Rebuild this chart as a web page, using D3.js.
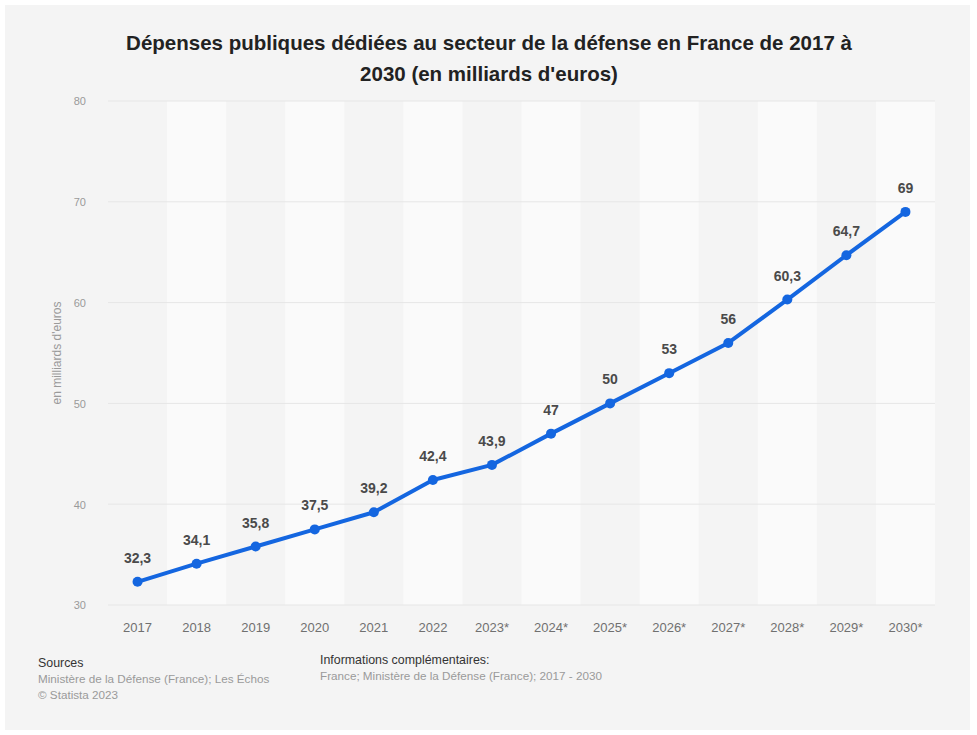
<!DOCTYPE html>
<html lang="fr">
<head>
<meta charset="utf-8">
<script src="https://cdn.jsdelivr.net/npm/d3@7/dist/d3.min.js"></script>
<style>
  html, body { margin: 0; padding: 0; background: #ffffff; }
  svg { display: block; font-family: "Liberation Sans", Arial, sans-serif; }
</style>
</head>
<body>
<svg id="chart" width="977" height="735"></svg>
<script>
// Années (les astérisques marquent les prévisions)
const years = ["2017", "2018", "2019", "2020", "2021", "2022", "2023*", "2024*", "2025*", "2026*", "2027*", "2028*", "2029*", "2030*"];
// Dépenses en milliards d'euros
const spending = [32.3, 34.1, 35.8, 37.5, 39.2, 42.4, 43.9, 47, 50, 53, 56, 60.3, 64.7, 69];
const valueLabels = ["32,3", "34,1", "35,8", "37,5", "39,2", "42,4", "43,9", "47", "50", "53", "56", "60,3", "64,7", "69"];
const yTicks = [30, 40, 50, 60, 70, 80];

const titleLines = ["Dépenses publiques dédiées au secteur de la défense en France de 2017 à", "2030 (en milliards d'euros)"];

const svg = d3.select("#chart");

// Panneau de fond gris
svg.append("rect")
  .attr("x", 5).attr("y", 5)
  .attr("width", 965).attr("height", 725)
  .attr("fill", "#f4f4f4");

const plot = { left: 108, right: 935, top: 101, bottom: 605 };

const x = d3.scaleBand()
  .domain(years)
  .range([plot.left, plot.right])
  .paddingInner(0).paddingOuter(0);

const y = d3.scaleLinear()
  .domain([30, 80])
  .range([plot.bottom, plot.top]);

// Bandes alternées
svg.append("g")
  .selectAll("rect")
  .data(years.filter((d, i) => i % 2 === 1))
  .join("rect")
  .attr("x", d => x(d))
  .attr("y", plot.top)
  .attr("width", x.bandwidth())
  .attr("height", plot.bottom - plot.top)
  .attr("fill", "#fafafa");

// Lignes de grille horizontales
svg.append("g")
  .selectAll("line")
  .data(yTicks)
  .join("line")
  .attr("x1", plot.left).attr("x2", plot.right)
  .attr("y1", d => y(d)).attr("y2", d => y(d))
  .attr("stroke", "#e6e6e6")
  .attr("stroke-width", 1);

// Axe Y
const yAxis = svg.append("g")
  .attr("transform", `translate(${plot.left - 22},0)`)
  .call(d3.axisLeft(y).tickValues(yTicks).tickSize(0).tickPadding(0));
yAxis.select(".domain").remove();
yAxis.selectAll("text")
  .attr("fill", "#9a9a9a")
  .attr("font-size", 11)
  .attr("text-anchor", "end")
  .attr("dy", "0.35em");

// Axe X
const xAxis = svg.append("g")
  .attr("transform", `translate(0,${plot.bottom})`)
  .call(d3.axisBottom(x).tickSize(0).tickPadding(0));
xAxis.select(".domain").remove();
xAxis.selectAll("text")
  .attr("fill", "#707070")
  .attr("font-size", 13)
  .attr("y", 27)
  .attr("dy", 0);

// Titre de l'axe Y
svg.append("text")
  .attr("transform", `translate(61,${(plot.top + plot.bottom) / 2}) rotate(-90)`)
  .attr("text-anchor", "middle")
  .attr("fill", "#9a9a9a")
  .attr("font-size", 12)
  .text("en milliards d'euros");

// Courbe
const cx = d => x(d) + x.bandwidth() / 2;
const line = d3.line()
  .x((d, i) => cx(years[i]))
  .y(d => y(d));

svg.append("path")
  .datum(spending)
  .attr("d", line)
  .attr("fill", "none")
  .attr("stroke", "#1466e0")
  .attr("stroke-width", 4)
  .attr("stroke-linejoin", "round")
  .attr("stroke-linecap", "round");

svg.append("g")
  .selectAll("circle")
  .data(spending)
  .join("circle")
  .attr("cx", (d, i) => cx(years[i]))
  .attr("cy", d => y(d))
  .attr("r", 5)
  .attr("fill", "#1466e0");

// Étiquettes de valeurs
svg.append("g")
  .selectAll("text")
  .data(spending)
  .join("text")
  .attr("x", (d, i) => cx(years[i]))
  .attr("y", d => y(d) - 19)
  .attr("text-anchor", "middle")
  .attr("fill", "#4a4a4a")
  .attr("font-size", 14)
  .attr("font-weight", "bold")
  .text((d, i) => valueLabels[i]);

// Titre
svg.append("g")
  .selectAll("text")
  .data(titleLines)
  .join("text")
  .attr("x", 489)
  .attr("y", (d, i) => 50 + i * 31)
  .attr("text-anchor", "middle")
  .attr("fill", "#222222")
  .attr("font-size", 20.5)
  .attr("font-weight", "bold")
  .text(d => d);

// Sources
const notes = svg.append("g").attr("font-size", 11.7);
notes.append("text").attr("x", 38).attr("y", 667)
  .attr("fill", "#333333").attr("font-size", 12.4).text("Sources");
notes.append("text").attr("x", 38).attr("y", 683)
  .attr("fill", "#9a9a9a").text("Ministère de la Défense (France); Les Échos");
notes.append("text").attr("x", 38).attr("y", 699)
  .attr("fill", "#9a9a9a").text("© Statista 2023");
notes.append("text").attr("x", 320).attr("y", 664)
  .attr("fill", "#333333").attr("font-size", 12.4).text("Informations complémentaires:");
notes.append("text").attr("x", 320).attr("y", 680)
  .attr("fill", "#9a9a9a").text("France; Ministère de la Défense (France); 2017 - 2030");
</script>
</body>
</html>
